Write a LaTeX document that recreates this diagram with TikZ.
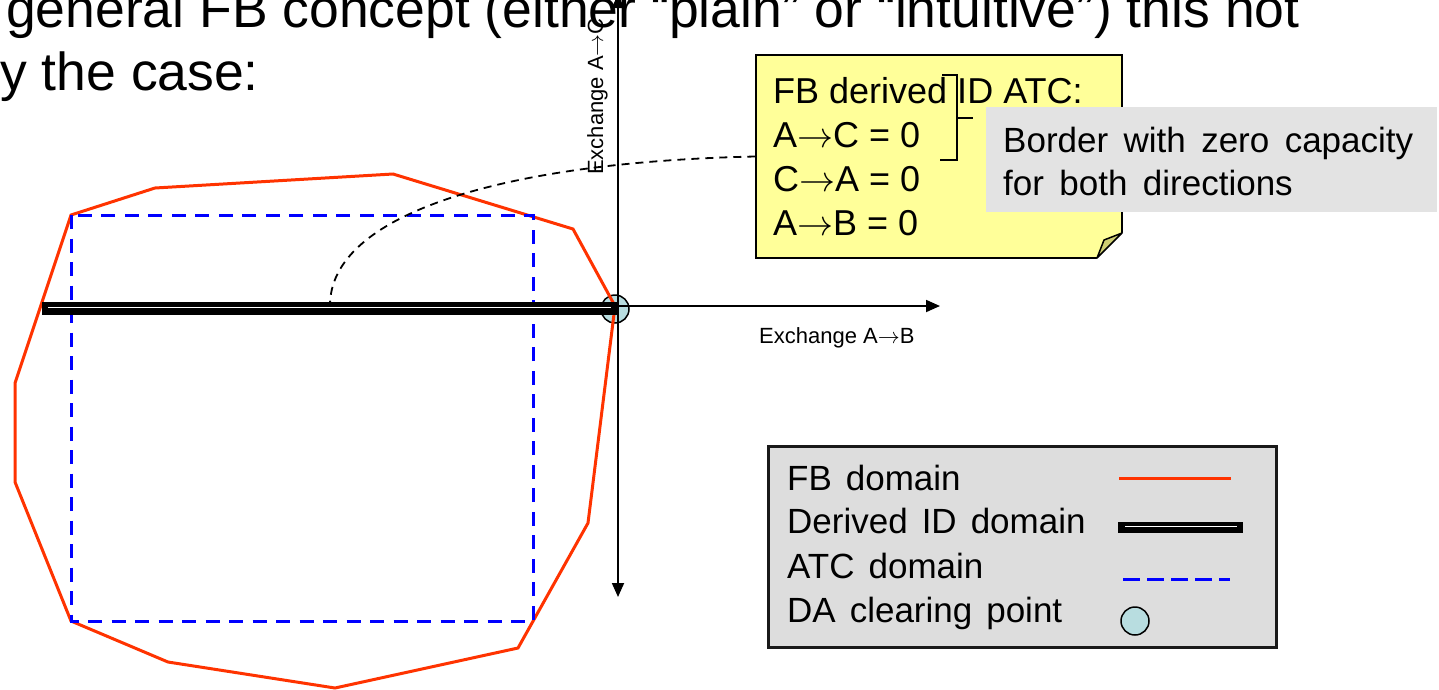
\RequirePackage{fix-cm}
\documentclass[tikz,border=0pt]{standalone}
\usepackage{fontspec}
\setmainfont{Liberation Sans}
\usetikzlibrary{arrows.meta}
\definecolor{fbred}{HTML}{FF3300}
\definecolor{atcblue}{HTML}{0000FF}
\definecolor{notefill}{HTML}{FFFF99}
\definecolor{notefold}{HTML}{CDCD72}
\definecolor{calloutgray}{HTML}{E3E3E3}
\definecolor{legendgray}{HTML}{DDDDDD}
\definecolor{pointfill}{HTML}{B8DDE0}
% fonts with slightly wider word spacing
\newcommand{\calloutfont}{\fontsize{35pt}{43pt}\selectfont\spaceskip 0.44em\relax}
\newcommand{\legendfont}{\fontsize{35pt}{44pt}\selectfont\spaceskip 0.4em\relax}
% long thin arrow between exchange partners
\newcommand{\toarr}{\ensuremath{\mathord{\rightarrow}}}

\begin{document}
\begin{tikzpicture}[x=1pt,y=-1pt,
  heading/.style={anchor=base west, inner sep=0pt, font=\fontsize{53.5pt}{62pt}\selectfont},
  notetext/.style={anchor=base west, inner sep=0pt, font=\fontsize{36pt}{44pt}\selectfont},
  callouttext/.style={anchor=base west, inner sep=0pt, font=\calloutfont},
  legendtext/.style={anchor=base west, inner sep=0pt, font=\legendfont},
  axislabel/.style={anchor=base west, inner sep=0pt, font=\fontsize{22pt}{26pt}\selectfont},
  fbline/.style={draw=fbred, line width=3pt, line join=miter},
  atcline/.style={draw=atcblue, line width=3pt, dash pattern=on 14pt off 9.5pt},
  idouter/.style={draw=black, line width=13pt},
  idinner/.style={draw=white, line width=1.3pt},
  axisline/.style={draw=black, line width=1.8pt},
  axistip/.tip={Triangle[length=14pt, width=12pt]},
  cpoint/.style={circle, draw=black, line width=1.5pt, fill=pointfill, minimum size=28pt, inner sep=0pt},
  notebox/.style={rectangle, draw=black, line width=1.5pt, fill=notefill, minimum width=366pt, minimum height=203pt, inner sep=0pt},
  calloutbox/.style={rectangle, fill=calloutgray, minimum width=451pt, minimum height=105pt, inner sep=0pt},
  legendbox/.style={rectangle, draw=black!90, line width=3pt, fill=legendgray, minimum width=508pt, minimum height=201pt, inner sep=0pt},
  connector/.style={draw=black, line width=1.8pt, dash pattern=on 8pt off 6pt, -{Stealth[length=9pt, width=8pt]}},
  bracket/.style={draw=black, line width=2.5pt, line join=miter}
]
\useasboundingbox (0,0) rectangle (1439,689);
\clip (0,0) rectangle (1439,689);

% heading text
\node[heading] (head1) at (6,27) {general FB concept (either “plain” or “intuitive”) this not};
\node[heading] (head2) at (0,90) {y the case:};

% DA clearing point (underneath the domain lines)
\node[cpoint] (dacp) at (615,309) {};

% FB domain
\draw[fbline] (155,188) -- (393,174) -- (573,229) -- (615,306) -- (588,523)
  -- (518,648) -- (335,688) -- (168,662) -- (71,621) -- (15,482) -- (15,383)
  -- (71,215) -- cycle;

% ATC domain
\draw[atcline] (71,215) rectangle (533,621);

% axes
\coordinate (origin) at (618,306);
\coordinate (ytop) at (618,-6);
\coordinate (ybottom) at (618,597);
\coordinate (xright) at (940,306);
\draw[axisline, {axistip}-{axistip}] (ytop) -- (ybottom);
\draw[axisline, -{axistip}] (origin) -- (xright);
\node[axislabel] (xlabel) at (759,343) {Exchange A\toarr B};
\node[axislabel, rotate=90] (ylabel) at (603,175) {Exchange A\toarr C};

% note with folded corner
\node[notebox] (note) at (939,156.5) {};
\fill[white] (1096,259.5) -- (1124,259.5) -- (1124,231.5) -- cycle;
\draw[fill=notefold, line width=1.5pt, line join=round] (1097,258) -- (1122,233) -- (1104,240) -- cycle;
\node[notetext] (n1) at (773,103) {FB derived ID ATC:};
\node[notetext] (n2) at (773,147) {A\toarr C = 0};
\node[notetext] (n3) at (773,191) {C\toarr A = 0};
\node[notetext] (n4) at (773,235) {A\toarr B = 0};

% dashed connector from the note down to the ID line
\coordinate (idhit) at (330,311);
\draw[connector] (note.west) .. controls (500,162) and (330,215) .. (idhit);

% derived ID domain
\draw[idouter] (42,308.5) -- (617,308.5);
\draw[idinner] (48,307.5) -- (611,307.5);

% callout with bracket
\node[calloutbox] (callout) at (1211.5,159.5) {};
\node[callouttext] (c1) at (1003,152) {Border with zero capacity};
\node[callouttext] (c2) at (1003,195) {for both directions};
\draw[bracket] (942,75) -- (957,75) -- (957,160) -- (940,160);
\draw[bracket] (957,118) -- (973,118);

% legend
\node[legendbox] (legend) at (1022,546.5) {};
\node[legendtext] (l1) at (787,490) {FB domain};
\node[legendtext] (l2) at (787,533) {Derived ID domain};
\node[legendtext] (l3) at (787,578) {ATC domain};
\node[legendtext] (l4) at (787,622) {DA clearing point};
\draw[fbline] (1119,478) -- (1231,478);
\draw[idouter, line width=11pt] (1118,527.5) -- (1243,527.5);
\draw[idinner, line width=1.2pt] (1125,526.5) -- (1237,526.5);
\draw[atcline, dash pattern=on 17pt off 7pt] (1123,579) -- (1230,579);
\node[cpoint] (legpoint) at (1135,621) {};
\end{tikzpicture}
\end{document}
